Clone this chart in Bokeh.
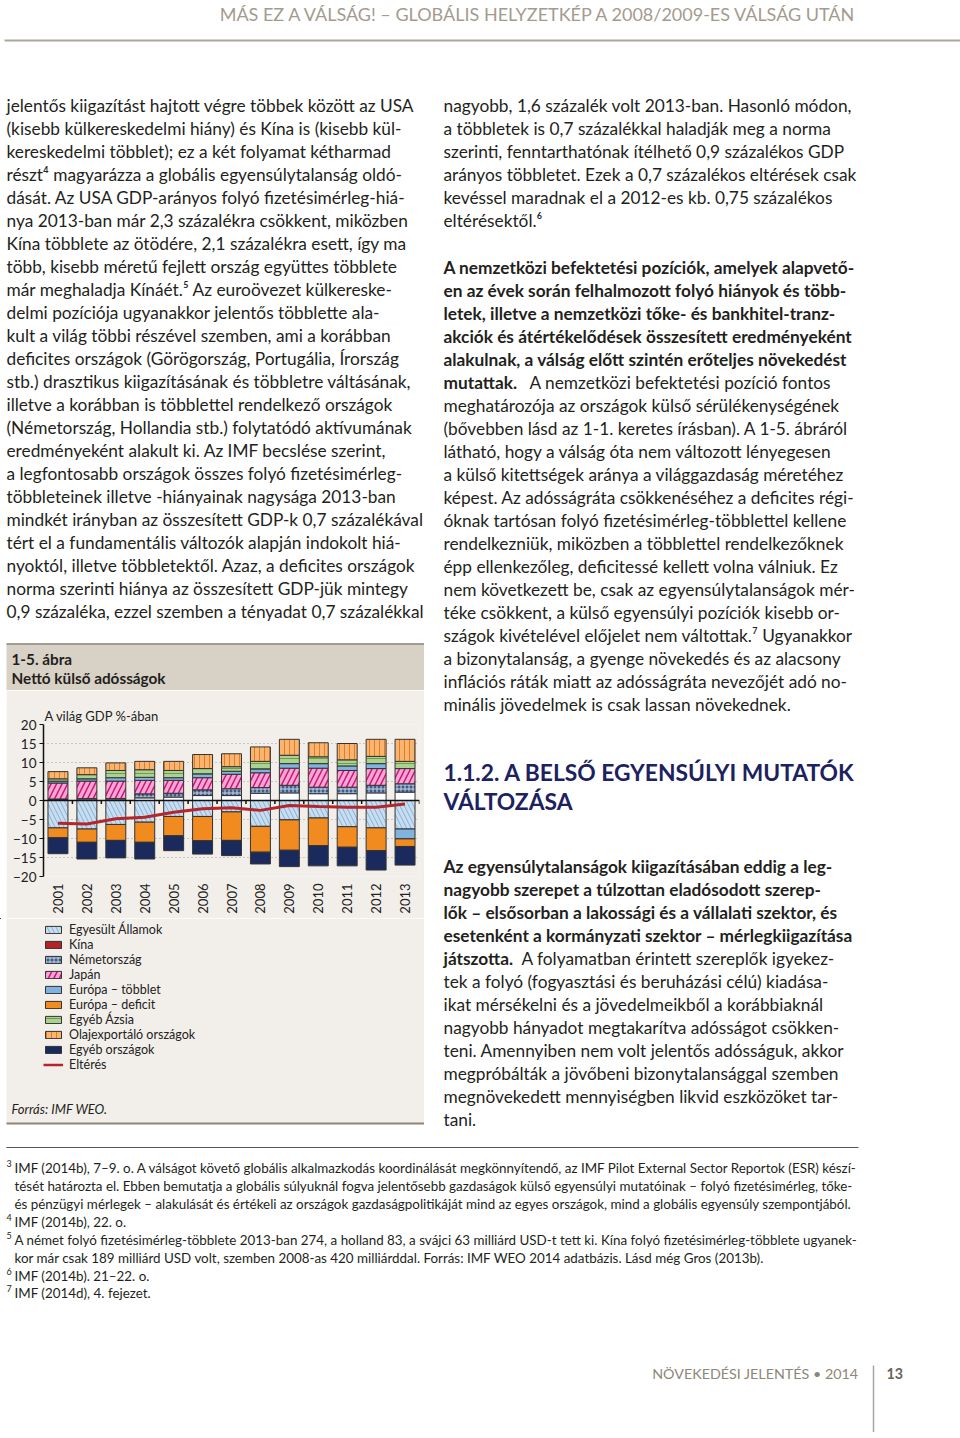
import math
from bokeh.plotting import figure
from bokeh.models import Range1d, ColumnDataSource, FixedTicker, Span, Legend, LegendItem, Spacer
from bokeh.layouts import column, row
from bokeh.embed import file_html
from bokeh.resources import INLINE
from bokeh.core.properties import value

# ---------------- chart data (share of world GDP, %) ----------------
years = ["2001", "2002", "2003", "2004", "2005", "2006", "2007",
         "2008", "2009", "2010", "2011", "2012", "2013"]
egyesult_allamok = [-7.2, -7.5, -6.3, -5.7, -4.2, -4.2, -3.0, -6.8, -5.1, -4.6, -6.9, -7.2, -7.5]
kina = [0.3, 0.4, 0.4, 0.7, 0.9, 1.3, 1.3, 1.9, 2.0, 1.8, 1.8, 2.0, 2.2]
nemetorszag = [0.1, 0.1, 0.1, 1.05, 1.0, 1.5, 1.8, 1.5, 2.0, 1.7, 1.7, 2.0, 2.2]
japan = [4.2, 4.6, 4.6, 3.55, 3.4, 3.2, 3.8, 3.9, 4.5, 5.0, 4.4, 4.4, 4.0]
europa_tobblet = [0.5, 0.6, 0.9, 0.8, 0.7, 1.0, 0.8, 1.0, 1.2, 1.2, 1.2, 1.3, -2.6]
europa_deficit = [-2.6, -3.5, -4.2, -5.3, -5.1, -6.4, -7.5, -6.8, -8.0, -7.3, -5.4, -6.0, -2.0]
egyeb_azsia = [0.6, 1.1, 1.9, 2.0, 1.9, 1.4, 1.2, 2.0, 2.2, 1.8, 1.6, 1.9, 1.9]
olajexportalo = [1.9, 1.8, 2.0, 2.2, 2.4, 3.7, 3.4, 3.8, 4.2, 3.7, 4.3, 4.5, 5.8]
egyeb_orszagok = [-4.2, -4.4, -4.6, -4.4, -3.9, -3.5, -4.0, -3.1, -4.3, -5.3, -4.9, -5.1, -4.9]
elteres = [-6.0, -6.2, -4.8, -4.4, -3.1, -2.2, -1.9, -2.6, -1.3, -1.6, -1.8, -1.8, -0.9]
y_ticks = [-20, -15, -10, -5, 0, 5, 10, 15, 20]

series_names = ["Egyesült Államok", "Kína", "Németország", "Japán", "Európa – többlet",
                "Európa – deficit", "Egyéb Ázsia", "Olajexportáló országok", "Egyéb országok"]
line_name = "Eltérés"

# ---------------- page text ----------------
header_text = "MÁS EZ A VÁLSÁG! – GLOBÁLIS HELYZETKÉP A 2008/2009-ES VÁLSÁG UTÁN"
left_lines = [
    "jelentős kiigazítást hajtott végre többek között az USA",
    "(kisebb külkereskedelmi hiány) és Kína is (kisebb kül-",
    "kereskedelmi többlet); ez a két folyamat kétharmad",
    "részt⁴ magyarázza a globális egyensúlytalanság oldó-",
    "dását. Az USA GDP-arányos folyó fizetésimérleg-hiá-",
    "nya 2013-ban már 2,3 százalékra csökkent, miközben",
    "Kína többlete az ötödére, 2,1 százalékra esett, így ma",
    "több, kisebb méretű fejlett ország együttes többlete",
    "már meghaladja Kínáét.⁵ Az euroövezet külkereske-",
    "delmi pozíciója ugyanakkor jelentős többlette ala-",
    "kult a világ többi részével szemben, ami a korábban",
    "deficites országok (Görögország, Portugália, Írország",
    "stb.) drasztikus kiigazításának és többletre váltásának,",
    "illetve a korábban is többlettel rendelkező országok",
    "(Németország, Hollandia stb.) folytatódó aktívumának",
    "eredményeként alakult ki. Az IMF becslése szerint,",
    "a legfontosabb országok összes folyó fizetésimérleg-",
    "többleteinek illetve -hiányainak nagysága 2013-ban",
    "mindkét irányban az összesített GDP-k 0,7 százalékával",
    "tért el a fundamentális változók alapján indokolt hiá-",
    "nyoktól, illetve többletektől. Azaz, a deficites országok",
    "norma szerinti hiánya az összesített GDP-jük mintegy",
    "0,9 százaléka, ezzel szemben a tényadat 0,7 százalékkal",
]
right_p1 = [
    "nagyobb, 1,6 százalék volt 2013-ban. Hasonló módon,",
    "a többletek is 0,7 százalékkal haladják meg a norma",
    "szerinti, fenntarthatónak ítélhető 0,9 százalékos GDP",
    "arányos többletet. Ezek a 0,7 százalékos eltérések csak",
    "kevéssel maradnak el a 2012-es kb. 0,75 százalékos",
    "eltérésektől.⁶",
]
right_p2_bold = [
    "A nemzetközi befektetési pozíciók, amelyek alapvető-",
    "en az évek során felhalmozott folyó hiányok és több-",
    "letek, illetve a nemzetközi tőke- és bankhitel-tranz-",
    "akciók és átértékelődések összesített eredményeként",
    "alakulnak, a válság előtt szintén erőteljes növekedést",
]
right_p2_mixed = ("mutattak.", "A nemzetközi befektetési pozíció fontos")
right_p2_rest = [
    "meghatározója az országok külső sérülékenységének",
    "(bővebben lásd az 1-1. keretes írásban). A 1-5. ábráról",
    "látható, hogy a válság óta nem változott lényegesen",
    "a külső kitettségek aránya a világgazdaság méretéhez",
    "képest. Az adósságráta csökkenéséhez a deficites régi-",
    "óknak tartósan folyó fizetésimérleg-többlettel kellene",
    "rendelkezniük, miközben a többlettel rendelkezőknek",
    "épp ellenkezőleg, deficitessé kellett volna válniuk. Ez",
    "nem következett be, csak az egyensúlytalanságok mér-",
    "téke csökkent, a külső egyensúlyi pozíciók kisebb or-",
    "szágok kivételével előjelet nem váltottak.⁷ Ugyanakkor",
    "a bizonytalanság, a gyenge növekedés és az alacsony",
    "inflációs ráták miatt az adósságráta nevezőjét adó no-",
    "minális jövedelmek is csak lassan növekednek.",
]
heading_lines = ["1.1.2. A BELSŐ EGYENSÚLYI MUTATÓK", "VÁLTOZÁSA"]
right_p3_bold = [
    "Az egyensúlytalanságok kiigazításában eddig a leg-",
    "nagyobb szerepet a túlzottan eladósodott szerep-",
    "lők – elsősorban a lakossági és a vállalati szektor, és",
    "esetenként a kormányzati szektor – mérlegkiigazítása",
]
right_p3_mixed = ("játszotta.", "A folyamatban érintett szereplők igyekez-")
right_p3_rest = [
    "tek a folyó (fogyasztási és beruházási célú) kiadása-",
    "ikat mérsékelni és a jövedelmeikből a korábbiaknál",
    "nagyobb hányadot megtakarítva adósságot csökken-",
    "teni. Amennyiben nem volt jelentős adósságuk, akkor",
    "megpróbálták a jövőbeni bizonytalansággal szemben",
    "megnövekedett mennyiségben likvid eszközöket tar-",
    "tani.",
]
figure_number = "1-5. ábra"
figure_title = "Nettó külső adósságok"
axis_title = "A világ GDP %-ában"
source_text = "Forrás: IMF WEO."
foot_nums = ["3", "", "", "4", "5", "", "6", "7"]
foot_lines = [
    "IMF (2014b), 7–9. o. A válságot követő globális alkalmazkodás koordinálását megkönnyítendő, az IMF Pilot External Sector Reportok (ESR) készí-",
    "tését határozta el. Ebben bemutatja a globális súlyuknál fogva jelentősebb gazdaságok külső egyensúlyi mutatóinak – folyó fizetésimérleg, tőke-",
    "és pénzügyi mérlegek – alakulását és értékeli az országok gazdaságpolitikáját mind az egyes országok, mind a globális egyensúly szempontjából.",
    "IMF (2014b), 22. o.",
    "A német folyó fizetésimérleg-többlete 2013-ban 274, a holland 83, a svájci 63 milliárd USD-t tett ki. Kína folyó fizetésimérleg-többlete ugyanek-",
    "kor már csak 189 milliárd USD volt, szemben 2008-as 420 milliárddal. Forrás: IMF WEO 2014 adatbázis. Lásd még Gros (2013b).",
    "IMF (2014b). 21–22. o.",
    "IMF (2014d), 4. fejezet.",
]
footer_text = "NÖVEKEDÉSI JELENTÉS • 2014"
page_number = "13"

# ---------------- styles ----------------
FONT = "Lato"
BODY = "17.3px"
TXT = "#231f20"
PANEL = "#f2efea"
BAND = "#d8d1c6"
RULE = "#8d8678"

styles = [
    dict(fill_color="#c8ddf0", hatch_pattern="\\", hatch_color="#86b1d4", hatch_scale=9, hatch_weight=1),
    dict(fill_color="#ffffff"),
    dict(fill_color="#3d5b8b", hatch_pattern="+", hatch_color="#c9d3e4", hatch_scale=4, hatch_weight=1),
    dict(fill_color="#f6a6d0", hatch_pattern="/", hatch_color="#c8157f", hatch_scale=11, hatch_weight=1.5),
    dict(fill_color="#80b3dd"),
    dict(fill_color="#f28b1f"),
    dict(fill_color="#acd292", hatch_pattern="-", hatch_color="#6f9e4b", hatch_scale=5, hatch_weight=1),
    dict(fill_color="#f8b470", hatch_pattern="|", hatch_color="#e07f22", hatch_scale=5, hatch_weight=1),
    dict(fill_color="#1b2a5c"),
]
legend_styles = list(styles)
legend_styles[1] = dict(fill_color="#b5232a")
LINE_COLOR = "#b3262c"


def canvas(w, h, x0, y0, bg="white"):
    p = figure(width=w, height=h, x_range=Range1d(x0, x0 + w), y_range=Range1d(y0 + h, y0),
               x_axis_type=None, y_axis_type=None, output_backend="svg", toolbar_location=None,
               min_border=0, min_border_left=0, min_border_right=0, min_border_top=0, min_border_bottom=0,
               frame_align=False)
    p.grid.visible = False
    p.outline_line_color = None
    p.background_fill_color = bg
    p.border_fill_color = bg
    return p


def add_text(p, xs, ys, texts, size=BODY, style="normal", color=TXT, align="left", font=FONT):
    if not isinstance(xs, list):
        xs = [xs] * len(texts)
    src = ColumnDataSource(dict(x=xs, y=ys, t=texts))
    p.text(x="x", y="y", text="t", source=src, text_font=value(font), text_font_size=size,
           text_font_style=style, text_color=color, text_baseline="middle", text_align=align)


LH = 23  # line height of body text
LEFT_W = 424

# ---------------- A: header ----------------
pa = canvas(960, 90, 0, 0)
add_text(pa, 858, [13], [header_text], size="18px", color="#a39b8e", align="right")
pa.segment(x0=[4], y0=[40], x1=[960], y1=[40], line_color="#aaa698", line_width=2)

# ---------------- B: left text + figure title band ----------------
pb = canvas(LEFT_W, 600, 0, 90)
add_text(pb, 6, [105 + LH * i for i in range(len(left_lines))], left_lines)
pb.quad(left=[6], right=[424], top=[643], bottom=[690], fill_color=BAND, line_color=None)
pb.segment(x0=[6], y0=[643.5], x1=[424], y1=[643.5], line_color=RULE, line_width=1.5)
add_text(pb, 11, [658, 677], [figure_number, figure_title], size="15.3px", style="bold", color="#231f20")

# ---------------- C: chart ----------------
xs = list(range(1, len(years) + 1))
pc = figure(width=LEFT_W - 6, height=228, x_range=Range1d(0.5, len(years) + 0.5), y_range=Range1d(-20, 20),
            output_backend="svg", toolbar_location=None, frame_align=False,
            min_border_left=37, min_border_right=5, min_border_top=34, min_border_bottom=42)
pc.background_fill_color = PANEL
pc.border_fill_color = PANEL
pc.outline_line_color = None
pc.xgrid.visible = False
pc.ygrid.ticker = FixedTicker(ticks=y_ticks)
pc.ygrid.grid_line_color = "#9c9c9c"
pc.ygrid.grid_line_dash = "1 3"
pc.ygrid.grid_line_width = 1

pc.yaxis.ticker = FixedTicker(ticks=y_ticks)
pc.yaxis.major_label_overrides = {t: (("−" + str(-t)) if t < 0 else str(t)) for t in y_ticks}
pc.yaxis.axis_line_color = "#111111"
pc.yaxis.axis_line_width = 1.5
pc.yaxis.major_tick_line_color = "#111111"
pc.yaxis.major_tick_out = 4
pc.yaxis.major_tick_in = 0
pc.yaxis.minor_tick_line_color = None
pc.yaxis.major_label_standoff = 3
pc.yaxis.major_label_text_font = FONT
pc.yaxis.major_label_text_font_size = "13.5px"
pc.yaxis.major_label_text_color = "#222222"

pc.xaxis.ticker = FixedTicker(ticks=xs)
pc.xaxis.major_label_overrides = {x: y for x, y in zip(xs, years)}
pc.xaxis.major_label_orientation = math.pi / 2
pc.xaxis.axis_line_color = None
pc.xaxis.major_tick_line_color = None
pc.xaxis.minor_tick_line_color = None
pc.xaxis.major_label_standoff = 1
pc.xaxis.major_label_text_font = FONT
pc.xaxis.major_label_text_font_size = "13px"
pc.xaxis.major_label_text_color = "#222222"

pc.title.text = axis_title
pc.title.align = "left"
pc.title.text_font = FONT
pc.title.text_font_size = "13px"
pc.title.text_font_style = "normal"
pc.title.text_color = "#222222"
pc.title.standoff = 2
pc.title.offset = 1

all_series = [egyesult_allamok, kina, nemetorszag, japan, europa_tobblet,
              europa_deficit, egyeb_azsia, olajexportalo, egyeb_orszagok]
pos = [0.0] * len(years)
neg = [0.0] * len(years)
for vals, st in zip(all_series, styles):
    bottoms, tops = [], []
    for i, v in enumerate(vals):
        if v >= 0:
            b = pos[i]; pos[i] = b + v
        else:
            b = neg[i]; neg[i] = b + v
        bottoms.append(b)
        tops.append(b + v)
    pc.vbar(x=xs, bottom=bottoms, top=tops, width=0.69, line_color="#333333", line_width=1, **st)

pc.add_layout(Span(location=0, dimension="width", line_color="#111111", line_width=1.5))
bx = [x + 0.5 for x in xs]
pc.segment(x0=bx, y0=[0] * len(bx), x1=bx, y1=[-0.9] * len(bx), line_color="#111111", line_width=1.5)
pc.line(xs, elteres, line_color=LINE_COLOR, line_width=3)

# ---------------- D: legend + source ----------------
pd_ = canvas(LEFT_W, 214, 0, 918, bg="white")
pd_.quad(left=[6], right=[424], top=[918], bottom=[1123], fill_color=PANEL, line_color=None)
pd_.segment(x0=[6], y0=[1123], x1=[424], y1=[1123], line_color=RULE, line_width=2)
add_text(pd_, 11, [1108], [source_text], size="13px", style="italic", color="#231f20")
items = []
for name, st in zip(series_names, legend_styles):
    r = pd_.vbar(x=[-1000], top=[0], width=0.5, line_color="#333333", line_width=1, **st)
    items.append(LegendItem(label=name, renderers=[r]))
rl = pd_.line(x=[-1000, -999], y=[0, 0], line_color=LINE_COLOR, line_width=2.5)
items.append(LegendItem(label=line_name, renderers=[rl]))
legend = Legend(items=items, location=(43, 60), orientation="vertical",
                glyph_width=20, glyph_height=9, label_height=15, spacing=0, padding=0, margin=0,
                label_standoff=6, label_text_font=FONT, label_text_font_size="12.5px",
                label_text_color="#222222", background_fill_alpha=0, border_line_color=None)
pd_.add_layout(legend)

# ---------------- E: right column ----------------
pe = canvas(960 - LEFT_W, 1042, LEFT_W, 90)
add_text(pe, 443, [105 + LH * i for i in range(len(right_p1))], right_p1)
y2 = [267 + LH * i for i in range(20)]
add_text(pe, 443, y2[:5], right_p2_bold, style="bold")
add_text(pe, 443, [y2[5]], [right_p2_mixed[0]], style="bold")
add_text(pe, 529, [y2[5]], [right_p2_mixed[1]])
add_text(pe, 443, y2[6:], right_p2_rest)
add_text(pe, 443, [771, 800], heading_lines, size="22.8px", style="bold", color="#1c2160")
y3 = [866 + LH * i for i in range(12)]
add_text(pe, 443, y3[:4], right_p3_bold, style="bold")
add_text(pe, 443, [y3[4]], [right_p3_mixed[0]], style="bold")
add_text(pe, 521, [y3[4]], [right_p3_mixed[1]])
add_text(pe, 443, y3[5:], right_p3_rest)

# ---------------- F: footnotes + footer ----------------
pf = canvas(960, 300, 0, 1132)
pf.segment(x0=[6], y0=[1147], x1=[858], y1=[1147], line_color="#555555", line_width=1.2)
fy = [1167, 1185, 1203, 1221, 1239, 1257, 1275, 1292]
add_text(pf, 14, fy, foot_lines, size="13.4px")
add_text(pf, 6, [y - 4 for y in fy], foot_nums, size="9px")
add_text(pf, 858, [1373], [footer_text], size="14.3px", color="#8e8679", align="right")
add_text(pf, 886, [1373], [page_number], size="14.3px", style="bold", color="#6b6459")
pf.segment(x0=[873], y0=[1365], x1=[873], y1=[1432], line_color="#aaa59c", line_width=1.5)

left_col = column(pb, row(Spacer(width=6, height=228), pc), pd_)
layout = column(pa, row(left_col, pe), pf)
open("out.html", "w").write(file_html(layout, INLINE))
